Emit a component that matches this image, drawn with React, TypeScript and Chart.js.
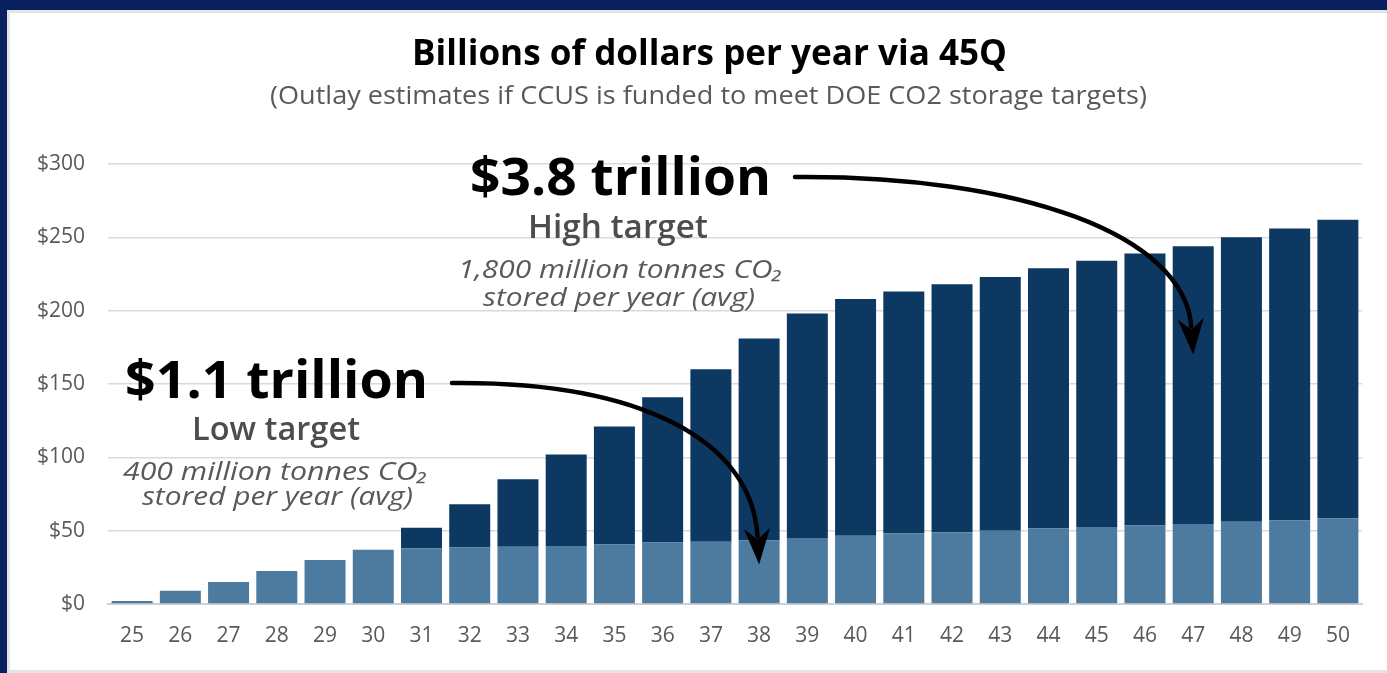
import React, { useEffect, useRef } from "react";
import { Chart, registerables } from "chart.js";

Chart.register(...registerables);

const years = ["25","26","27","28","29","30","31","32","33","34","35","36","37","38","39","40","41","42","43","44","45","46","47","48","49","50"];
// Low target (400 Mt CO2/yr) outlays, $ billions
const lowTarget = [2, 9, 15, 22.5, 30, 37, 38, 38.5, 39, 39.5, 40.5, 42, 42.5, 43.5, 45, 46.5, 48, 49, 50, 51.5, 52.5, 53.5, 54.5, 56, 57, 58.5];
// Additional outlays to reach the high target (1,800 Mt CO2/yr), $ billions
const highAdditional = [0, 0, 0, 0, 0, 0, 14, 29.5, 46, 62.5, 80.5, 99, 117.5, 137.5, 153, 161.5, 165, 169, 173, 177.5, 181.5, 185.5, 189.5, 194, 199, 203.5];
const yTicks = [0, 50, 100, 150, 200, 250, 300];

const titleText = "Billions of dollars per year via 45Q";
const subtitleText = "(Outlay estimates if CCUS is funded to meet DOE CO2 storage targets)";
const highAnno = ["$3.8 trillion", "High target", "1,800 million tonnes CO\u2082", "stored per year (avg)"];
const lowAnno = ["$1.1 trillion", "Low target", "400 million tonnes CO\u2082", "stored per year (avg)"];

function drawFit(ctx: CanvasRenderingContext2D, text: string, x: number, baseline: number, width: number, font: string, color: string) {
  ctx.save();
  ctx.font = font;
  const w = ctx.measureText(text).width;
  ctx.translate(x, baseline);
  ctx.scale(width / w, 1);
  ctx.fillStyle = color;
  ctx.textBaseline = "alphabetic";
  ctx.textAlign = "left";
  ctx.fillText(text, 0, 0);
  ctx.restore();
}

function drawArrow(ctx: CanvasRenderingContext2D, p0: number[], p1: number[], p2: number[], tip: number[]) {
  let dx = tip[0] - p2[0];
  let dy = tip[1] - p2[1];
  const len = Math.hypot(dx, dy);
  dx /= len; dy /= len;
  const headLen = 32;
  const headHalf = 13;
  const base = [tip[0] - dx * headLen, tip[1] - dy * headLen];
  ctx.save();
  ctx.strokeStyle = "#000";
  ctx.fillStyle = "#000";
  ctx.lineWidth = 4.5;
  ctx.lineCap = "round";
  ctx.beginPath();
  ctx.moveTo(p0[0], p0[1]);
  ctx.bezierCurveTo(p1[0], p1[1], p2[0], p2[1], base[0] + dx * 4, base[1] + dy * 4);
  ctx.stroke();
  const px = -dy, py = dx;
  ctx.beginPath();
  ctx.moveTo(tip[0], tip[1]);
  ctx.lineTo(base[0] + px * headHalf - dx * 4, base[1] + py * headHalf - dy * 4);
  ctx.lineTo(base[0] + dx * 7, base[1] + dy * 7);
  ctx.lineTo(base[0] - px * headHalf - dx * 4, base[1] - py * headHalf - dy * 4);
  ctx.closePath();
  ctx.fill();
  ctx.restore();
}

const annotationPlugin = {
  id: "annotations",
  afterDatasetsDraw(chart: any) {
    const ctx: CanvasRenderingContext2D = chart.ctx;
    const xs = chart.scales.x;
    const ys = chart.scales.y;
    const grey = "#595959";
    const darkGrey = "#4d4d4d";
    // Title and subtitle
    drawFit(ctx, titleText, 412, 65, 595, 'bold 35px "Open Sans"', "#000");
    drawFit(ctx, subtitleText, 270, 104, 877, '26px "Open Sans"', grey);

    // High target annotation
    drawFit(ctx, highAnno[0], 470, 195, 301, 'bold 52px "Open Sans"', "#000");
    drawFit(ctx, highAnno[1], 528, 238, 180, '600 32px "Open Sans"', darkGrey);
    drawFit(ctx, highAnno[2], 458, 278, 325, 'italic 25px "Open Sans"', grey);
    drawFit(ctx, highAnno[3], 483, 306, 272, 'italic 25px "Open Sans"', grey);

    // Low target annotation
    drawFit(ctx, lowAnno[0], 125, 398, 303, 'bold 52px "Open Sans"', "#000");
    drawFit(ctx, lowAnno[1], 192, 440, 168, '600 32px "Open Sans"', darkGrey);
    drawFit(ctx, lowAnno[2], 123, 480, 305, 'italic 25px "Open Sans"', grey);
    drawFit(ctx, lowAnno[3], 142, 505, 271, 'italic 25px "Open Sans"', grey);

    // Arrows
    const lowTip = [xs.getPixelForValue(13), ys.getPixelForValue(27)];
    drawArrow(ctx, [452, 383], [640, 381], [752, 440], lowTip);
    const highTip = [xs.getPixelForValue(22), ys.getPixelForValue(170)];
    drawArrow(ctx, [795, 177], [1020, 175], [1185, 235], highTip);
  },
};

export default function App() {
  const canvasRef = useRef<HTMLCanvasElement | null>(null);

  useEffect(() => {
    document.body.style.margin = "0";
    const canvas = canvasRef.current;
    if (!canvas) return;
    const chart = new Chart(canvas, {
      type: "bar",
      data: {
        labels: years,
        datasets: [
          {
            label: "Low target",
            data: lowTarget,
            backgroundColor: "#4d7a9f",
            borderWidth: 0,
            barPercentage: 0.85,
            categoryPercentage: 1,
          },
          {
            label: "High target (additional)",
            data: highAdditional,
            backgroundColor: "#0d3861",
            borderWidth: 0,
            barPercentage: 0.85,
            categoryPercentage: 1,
          },
        ],
      },
      options: {
        responsive: false,
        animation: false,
        devicePixelRatio: 1,
        layout: { padding: { top: 164, right: 25, left: 0, bottom: 0 } },
        plugins: {
          legend: { display: false },
          title: { display: false },
          tooltip: { enabled: false },
        },
        scales: {
          x: {
            stacked: true,
            grid: { display: false, drawTicks: false },
            border: { display: true, color: "#c9d0d8", width: 2 },
            ticks: {
              color: "#595959",
              font: { family: "Open Sans", size: 21 },
              padding: 19,
              maxRotation: 0,
              autoSkip: false,
            },
            afterFit(scale: any) {
              scale.height = 69;
            },
          },
          y: {
            stacked: true,
            min: 0,
            max: 300,
            afterBuildTicks(scale: any) {
              scale.ticks = yTicks.map((v) => ({ value: v }));
            },
            grid: { color: "#d9d9d9", lineWidth: 1.5, drawTicks: false },
            border: { display: false },
            ticks: {
              color: "#595959",
              font: { family: "Open Sans", size: 21 },
              padding: 23,
              callback: (v: any) => "$" + v,
            },
            afterFit(scale: any) {
              scale.width = 108;
            },
          },
        },
      },
      plugins: [annotationPlugin],
    });
    return () => chart.destroy();
  }, []);

  return (
    <div style={{ position: "relative", width: 1387, height: 673, background: "#08215e", overflow: "hidden" }}>
      <div
        style={{
          position: "absolute",
          left: 7,
          top: 10,
          right: 0,
          bottom: 0,
          background: "#ffffff",
          borderLeft: "3px solid #e4e4e4",
          borderTop: "3px solid #e4e4e4",
          borderBottom: "3px solid #e4e4e4",
        }}
      />
      <canvas
        ref={canvasRef}
        width={1387}
        height={673}
        style={{ position: "absolute", left: 0, top: 0, width: 1387, height: 673 }}
      />
    </div>
  );
}
